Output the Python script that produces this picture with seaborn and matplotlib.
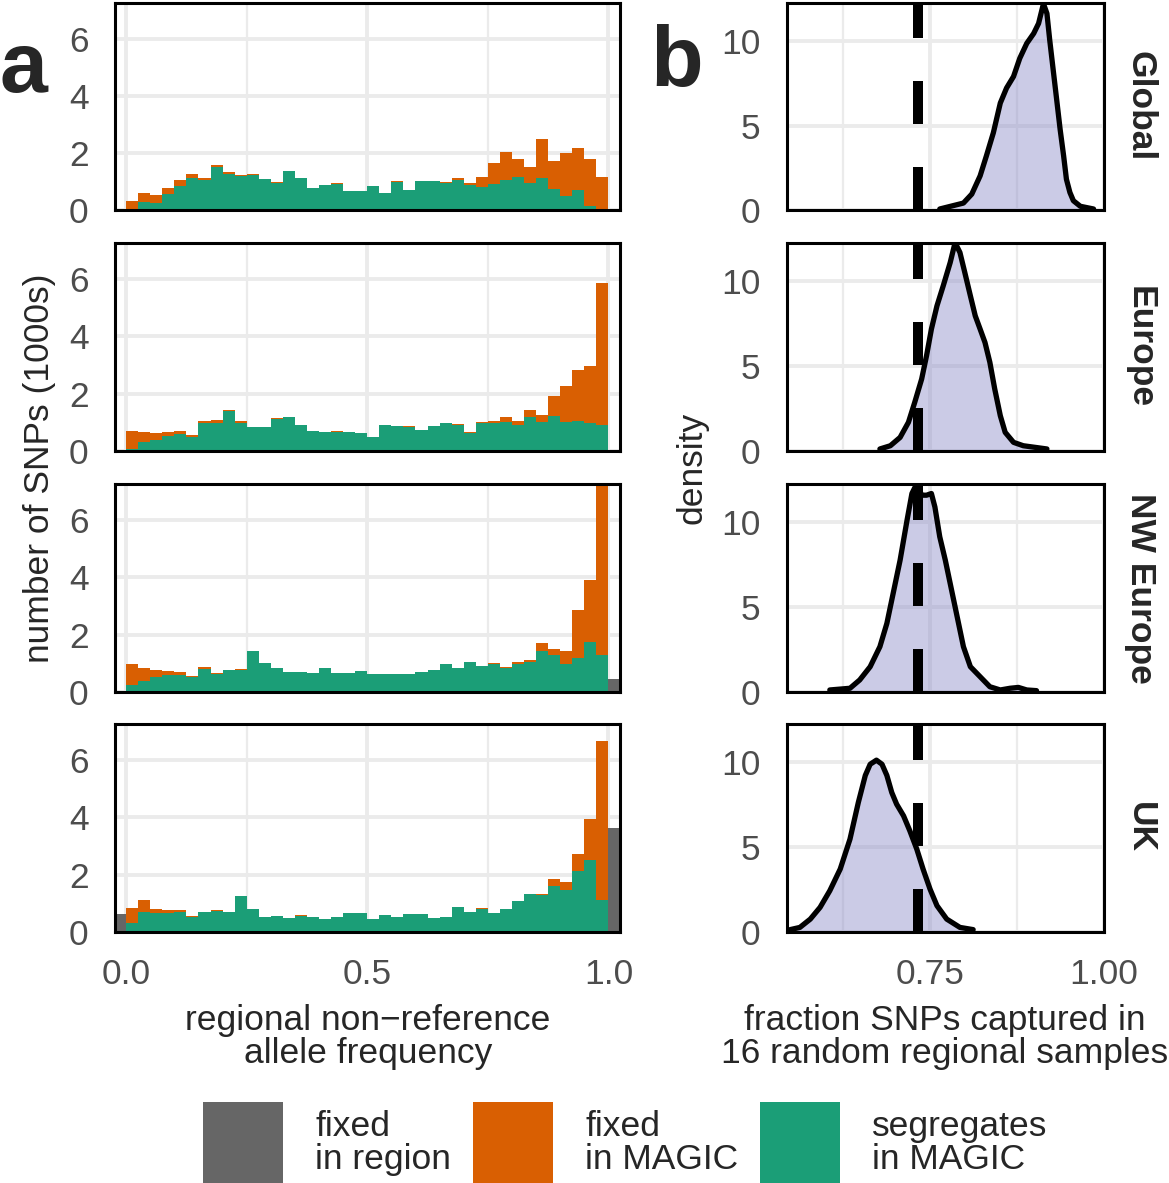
import numpy as np
import pandas as pd
import matplotlib
matplotlib.use("Agg")
import matplotlib.pyplot as plt
import seaborn as sns
from matplotlib.patches import Patch

# ---------------- data ----------------
regions = ["Global", "Europe", "NW Europe", "UK"]
categories = ["fixed in region", "fixed in MAGIC", "segregates in MAGIC"]
legend_labels = ["fixed\nin region", "fixed\nin MAGIC", "segregates\nin MAGIC"]
cat_colors = ["#666666", "#D95F02", "#1B9E77"]

# 40 bins of width 0.025 on [0, 1]; values in 1000s of SNPs
seg_global = [0.00, 0.28, 0.25, 0.56, 0.84, 1.12, 1.05, 1.49, 1.26, 1.18,
              1.24, 1.08, 0.95, 1.36, 1.12, 0.78, 0.89, 0.92, 0.67, 0.68,
              0.83, 0.61, 0.98, 0.70, 1.01, 1.01, 0.95, 1.06, 0.87, 0.80,
              0.92, 1.04, 1.15, 0.95, 1.11, 0.73, 0.49, 0.71, 0.14, 0.05]
tot_global = [0.33, 0.61, 0.51, 0.77, 1.06, 1.27, 1.13, 1.58, 1.33, 1.24,
              1.27, 1.10, 0.97, 1.38, 1.12, 0.78, 0.89, 0.96, 0.67, 0.68,
              0.83, 0.61, 1.03, 0.70, 1.03, 1.03, 0.98, 1.12, 0.96, 1.15,
              1.64, 2.04, 1.77, 1.49, 2.50, 1.70, 2.00, 2.16, 1.77, 1.15]
seg_europe = [0.06, 0.30, 0.37, 0.51, 0.58, 0.48, 0.97, 0.97, 1.40, 0.98,
              0.83, 0.84, 1.13, 1.17, 0.89, 0.69, 0.67, 0.67, 0.65, 0.61,
              0.49, 0.91, 0.88, 0.84, 0.73, 0.87, 0.96, 0.91, 0.61, 0.98,
              0.98, 1.01, 0.91, 1.20, 1.02, 1.23, 1.02, 1.05, 0.97, 0.92]
tot_europe = [0.68, 0.67, 0.63, 0.65, 0.71, 0.56, 1.04, 1.09, 1.44, 1.03,
              0.83, 0.84, 1.15, 1.17, 0.89, 0.69, 0.67, 0.70, 0.65, 0.61,
              0.49, 0.91, 0.88, 0.88, 0.73, 0.87, 0.99, 0.95, 0.65, 1.01,
              1.04, 1.19, 1.04, 1.44, 1.24, 1.93, 2.25, 2.81, 2.95, 5.86]
seg_nweurope = [0.23, 0.39, 0.51, 0.60, 0.60, 0.51, 0.81, 0.63, 0.75, 0.78,
                1.43, 1.02, 0.83, 0.68, 0.71, 0.67, 0.84, 0.65, 0.65, 0.72,
                0.61, 0.64, 0.61, 0.61, 0.71, 0.78, 0.97, 0.83, 1.03, 0.89,
                0.96, 0.84, 0.96, 1.04, 1.43, 1.29, 0.99, 1.17, 1.73, 1.29]
tot_nweurope = [0.99, 0.84, 0.76, 0.73, 0.69, 0.55, 0.87, 0.65, 0.77, 0.81,
                1.43, 1.02, 0.83, 0.68, 0.71, 0.67, 0.84, 0.65, 0.65, 0.72,
                0.61, 0.64, 0.61, 0.61, 0.71, 0.78, 0.97, 0.83, 1.05, 0.89,
                1.02, 0.88, 1.03, 1.12, 1.72, 1.50, 1.43, 2.87, 3.92, 7.60]
seg_uk = [0.33, 0.68, 0.65, 0.65, 0.71, 0.54, 0.68, 0.74, 0.68, 1.24,
          0.80, 0.53, 0.55, 0.48, 0.56, 0.54, 0.46, 0.53, 0.65, 0.66,
          0.46, 0.60, 0.54, 0.62, 0.63, 0.49, 0.51, 0.88, 0.69, 0.81,
          0.67, 0.80, 1.08, 1.31, 1.30, 1.59, 1.46, 2.11, 2.51, 1.11]
tot_uk = [0.83, 1.10, 0.80, 0.76, 0.76, 0.56, 0.68, 0.76, 0.68, 1.24,
          0.80, 0.53, 0.55, 0.48, 0.58, 0.54, 0.46, 0.53, 0.65, 0.66,
          0.46, 0.60, 0.54, 0.62, 0.63, 0.49, 0.51, 0.88, 0.69, 0.83,
          0.67, 0.80, 1.08, 1.31, 1.33, 1.86, 1.75, 2.71, 3.95, 6.65]
# fixed-in-region counts (frequency exactly 0 and exactly 1)
fixed_region_0 = [0.00, 0.00, 0.00, 0.63]
fixed_region_1 = [0.00, 0.05, 0.47, 3.63]

seg_all = [seg_global, seg_europe, seg_nweurope, seg_uk]
tot_all = [tot_global, tot_europe, tot_nweurope, tot_uk]

# density curves of the fraction of SNPs captured
dens_x_global = [0.764, 0.798, 0.810, 0.822, 0.831, 0.841, 0.851, 0.860, 0.870,
                 0.879, 0.889, 0.899, 0.906, 0.913, 0.918, 0.922, 0.927, 0.932,
                 0.937, 0.942, 0.946, 0.951, 0.956, 0.966, 0.985]
dens_y_global = [0.06, 0.41, 0.94, 2.02, 3.20, 4.57, 6.33, 7.22, 7.90,
                 8.98, 9.86, 10.45, 11.04, 12.21, 11.63, 10.06, 8.29, 6.53,
                 4.76, 3.20, 1.82, 1.04, 0.55, 0.22, 0.06]
dens_x_europe = [0.678, 0.693, 0.707, 0.719, 0.728, 0.738, 0.745, 0.752, 0.760,
                 0.769, 0.779, 0.786, 0.793, 0.800, 0.808, 0.815, 0.822, 0.829,
                 0.836, 0.843, 0.851, 0.858, 0.870, 0.884, 0.918]
dens_y_europe = [0.12, 0.31, 0.80, 1.69, 2.86, 4.24, 5.61, 7.18, 8.55,
                 9.73, 11.10, 12.27, 11.69, 10.51, 9.14, 7.96, 7.18, 6.39,
                 5.22, 3.65, 2.08, 1.10, 0.51, 0.31, 0.12]
dens_x_nweurope = [0.606, 0.635, 0.649, 0.664, 0.678, 0.688, 0.697, 0.707, 0.717,
                   0.724, 0.731, 0.738, 0.745, 0.752, 0.757, 0.764, 0.772, 0.779,
                   0.788, 0.798, 0.808, 0.822, 0.836, 0.851, 0.865, 0.877, 0.889,
                   0.903]
dens_y_nweurope = [0.12, 0.22, 0.71, 1.49, 2.67, 4.04, 5.80, 7.76, 10.12,
                   11.69, 12.27, 11.59, 11.59, 11.69, 10.90, 9.14, 7.76, 6.39,
                   4.63, 2.67, 1.49, 0.90, 0.31, 0.12, 0.22, 0.27, 0.12,
                   0.08]
dens_x_uk = [0.549, 0.563, 0.578, 0.592, 0.606, 0.621, 0.635, 0.647, 0.657,
             0.664, 0.673, 0.681, 0.688, 0.695, 0.702, 0.712, 0.721, 0.731,
             0.740, 0.750, 0.760, 0.774, 0.793, 0.812]
dens_y_uk = [0.14, 0.27, 0.76, 1.45, 2.43, 3.71, 5.47, 7.63, 9.22,
             9.88, 10.12, 9.88, 9.22, 8.22, 7.53, 6.84, 5.96, 4.88,
             3.71, 2.53, 1.55, 0.76, 0.27, 0.14]
dens_x_all = [dens_x_global, dens_x_europe, dens_x_nweurope, dens_x_uk]
dens_y_all = [dens_y_global, dens_y_europe, dens_y_nweurope, dens_y_uk]
reference_fraction = 0.7328

# ---------------- style ----------------
sns.set_theme(style="white")
plt.rcParams["font.family"] = ["Liberation Sans", "DejaVu Sans"]

GRID = "#ebebeb"
TICKC = "#4d4d4d"
FS = 25.5

fig = plt.figure(figsize=(11.69, 11.83), dpi=100)
H = 1183.0
W = 1169.0
panel_px = [(3, 210), (243, 451), (484, 692), (724, 932)]

centers = 0.0125 + 0.025 * np.arange(40)


def style_axes(ax):
    for sp in ax.spines.values():
        sp.set_visible(True)
        sp.set_color("black")
        sp.set_linewidth(2.2)
    ax.set_axisbelow(True)
    ax.grid(which="major", color=GRID, linewidth=2.8)
    ax.grid(which="minor", axis="x", color=GRID, linewidth=1.6)
    ax.grid(which="minor", axis="y", visible=False)
    ax.tick_params(which="both", length=0, labelsize=FS, labelcolor=TICKC, pad=19)
    ax.set_xlabel("")
    ax.set_ylabel("")


for i, reg in enumerate(regions):
    top, bot = panel_px[i]
    b = (H - bot) / H
    h = (bot - top) / H
    axl = fig.add_axes([115 / W, b, 505 / W, h])
    axr = fig.add_axes([787 / W, b, 317 / W, h])

    seg = np.array(seg_all[i])
    fixed = np.clip(np.array(tot_all[i]) - seg, 0, None)
    df = pd.DataFrame({
        "x": np.concatenate([centers, centers, [-0.0125, 1.0125]]),
        "w": np.concatenate([seg, fixed, [fixed_region_0[i], fixed_region_1[i]]]),
        "cat": ["segregates in MAGIC"] * 40 + ["fixed in MAGIC"] * 40 + ["fixed in region"] * 2,
    })
    sns.histplot(data=df, x="x", weights="w", hue="cat", hue_order=categories,
                 palette=cat_colors, binwidth=0.025, binrange=(-0.025, 1.025),
                 multiple="stack", element="bars",
                 alpha=1, linewidth=0, legend=False, ax=axl)
    axl.set_xlim(-0.023, 1.024)
    axl.set_ylim(0, 7.25)
    axl.set_xticks([0, 0.5, 1.0])
    axl.set_xticklabels(["0.0", "0.5", "1.0"])
    axl.set_xticks([0.25, 0.75], minor=True)
    axl.set_yticks([0, 2, 4, 6])
    style_axes(axl)

    xs = np.array(dens_x_all[i])
    ys = np.array(dens_y_all[i])
    axr.fill_between(xs, ys, 0, color="#8c8cc8", alpha=0.45, linewidth=0, zorder=2)
    sns.lineplot(x=xs, y=ys, ax=axr, color="black", linewidth=3.8, sort=False,
                 estimator=None, zorder=3, solid_joinstyle="round", solid_capstyle="round")
    axr.axvline(reference_fraction, color="black", linewidth=7.2,
                dashes=(4.3, 4.3), zorder=4)
    axr.set_xlim(0.5445, 1.0)
    axr.set_ylim(0, 12.25)
    axr.set_xticks([0.75, 1.0])
    axr.set_xticklabels(["0.75", "1.00"])
    axr.set_xticks([0.625, 0.875], minor=True)
    axr.set_yticks([0, 5, 10])
    style_axes(axr)

    if i < 3:
        axl.tick_params(labelbottom=False)
        axr.tick_params(labelbottom=False)

    fig.text(1140 / W, (H - (top + bot) / 2) / H, reg, rotation=-90,
             ha="center", va="center", fontsize=FS, fontweight="bold")

fig.text(0.0, 1 - 70 / H, "a", ha="left", va="center", fontsize=62, fontweight="bold")
fig.text(677 / W, 1 - 64 / H, "b", ha="center", va="center", fontsize=62, fontweight="bold")

fig.text(40 / W, 1 - 468 / H, "number of SNPs (1000s)", rotation=90,
         ha="center", va="center", fontsize=FS)
fig.text(692 / W, 1 - 468 / H, "density", rotation=90,
         ha="center", va="center", fontsize=FS)
fig.text(368 / W, 1 - 1037 / H, "regional non\u2212reference\nallele frequency",
         ha="center", va="center", fontsize=FS, linespacing=1.03)
fig.text(945 / W, 1 - 1037 / H, "fraction SNPs captured in\n16 random regional samples",
         ha="center", va="center", fontsize=FS, linespacing=1.03)

handles = [Patch(facecolor=c, edgecolor="none") for c in cat_colors]
leg = fig.legend(handles, legend_labels, loc="center", bbox_to_anchor=(0.535, 1 - 1146 / H),
                 ncol=3, frameon=False, fontsize=FS, handlelength=2.26, handleheight=3.45,
                 handletextpad=0.9, columnspacing=0.62, borderpad=0.0)
for t in leg.get_texts():
    t.set_linespacing(1.0)

fig.savefig("out.png", dpi=100)
